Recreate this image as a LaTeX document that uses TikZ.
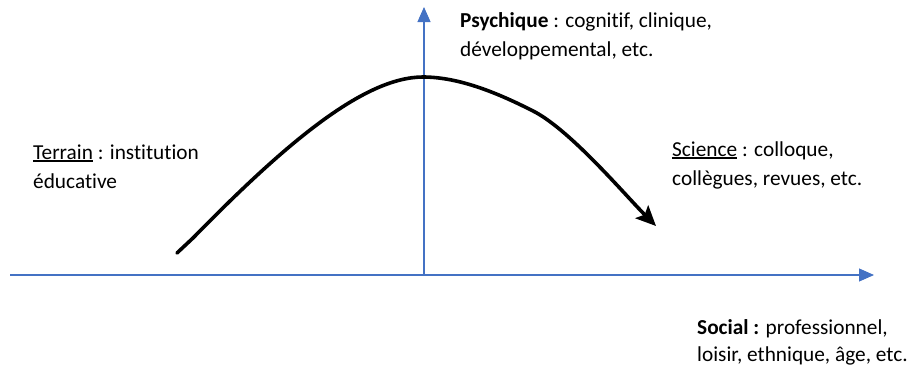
\documentclass[tikz,border=0pt]{standalone}
\usepackage{fontspec}
\setmainfont{Carlito}[Ligatures=NoCommon]
\usetikzlibrary{arrows.meta}
\definecolor{axisblue}{HTML}{4472C4}
\newcommand\myul[1]{\setbox0\hbox{#1}\rlap{\rule[-2.8pt]{\wd0}{1.4pt}}\box0\relax}
\begin{document}
\begin{tikzpicture}[x=1pt,y=-1pt,
  lbl/.style={anchor=base west,inner sep=0pt,font=\fontsize{21.3}{29}\selectfont},
  axis/.style={draw=axisblue,line width=1.1pt,-{Triangle[length=15pt,width=13pt]},color=axisblue},
  curvearrow/.style={draw=black,line width=3.6pt,line cap=round,-{Stealth[length=20pt,width=18pt,inset=4pt]}}]
\useasboundingbox (0,0) rectangle (912,365);
% axes
\coordinate (hx0) at (10,275);
\coordinate (hx1) at (874,275);
\coordinate (vy0) at (424,276);
\coordinate (vy1) at (424,7);
\draw[axis] (hx0) -- (hx1);
\draw[axis] (vy0) -- (vy1);
% curve
\coordinate (c0) at (177,253);
\coordinate (c1) at (193,238);
\coordinate (cpk) at (423,77);
\coordinate (c2) at (535,112);
\coordinate (cend) at (656,226);
\draw[curvearrow] (c0) -- (c1) .. controls (283,146) and (363,77) .. (cpk)
  .. controls (460,77) and (500,94) .. (c2)
  .. controls (572,132) and (625,195) .. (cend);
% labels
\node[lbl] (psy1) at (460,27) {\textbf{Psychique} : cognitif, clinique,};
\node[lbl] (psy2) at (460,56) {développemental, etc.};
\node[lbl] (ter1) at (33,159) {\myul{Terrain} : institution};
\node[lbl] (ter2) at (33,188) {éducative};
\node[lbl] (sci1) at (672,156) {\myul{Science} : colloque,};
\node[lbl] (sci2) at (672,185) {collègues, revues, etc.};
\node[lbl] (soc1) at (697,334) {\textbf{Social :} professionnel,};
\node[lbl] (soc2) at (697,361) {loisir, ethnique, âge, etc.};
\end{tikzpicture}
\end{document}
